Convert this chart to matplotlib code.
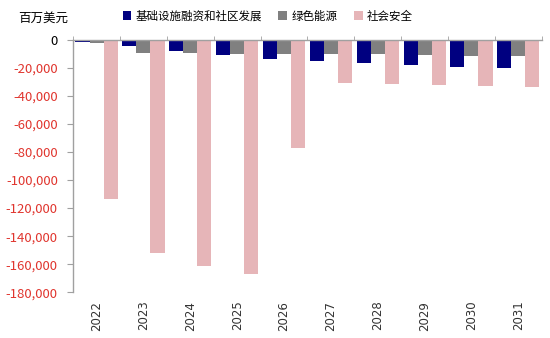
import matplotlib.pyplot as plt
import numpy as np
from matplotlib.ticker import FuncFormatter, FixedLocator

plt.rcParams['font.family'] = ['Noto Sans CJK SC', 'DejaVu Sans']

years = ['2022', '2023', '2024', '2025', '2026', '2027', '2028', '2029', '2030', '2031']
infra = [-1500, -4700, -8200, -11300, -13600, -15300, -17000, -18400, -19800, -20500]
green = [-2500, -9400, -9500, -10000, -10400, -10400, -10500, -10900, -11400, -11800]
social = [-113500, -152000, -161000, -167000, -77500, -30700, -31600, -32300, -33300, -34000]
series_names = ['基础设施融资和社区发展', '绿色能源', '社会安全']
colors = ['#000080', '#808080', '#E6B5B8']

fig = plt.figure(figsize=(5.5, 3.38), dpi=100)
ax = fig.add_axes([0.133, 0.135, 0.852, 0.748])

x = np.arange(len(years))
w = 0.3
for i, (vals, name, c) in enumerate(zip([infra, green, social], series_names, colors)):
    ax.bar(x + (i - 1) * w, vals, width=w, color=c, label=name, zorder=2)

ax.set_xlim(-0.5, len(years) - 0.5)
ax.set_ylim(-180000, 0)
ax.set_yticks(np.arange(-180000, 1, 20000))
ax.yaxis.set_major_formatter(FuncFormatter(lambda v, p: f'{int(v):,}'))
for lbl in ax.get_yticklabels():
    lbl.set_color('black' if lbl.get_text() == '0' else '#E0352E')
ax.tick_params(axis='y', length=4, color='#A0A0A0', labelsize=9.5, pad=7)

ax.set_xticks(x)
ax.set_xticklabels(years, rotation=90, fontsize=8.5, color='#333333', family=['DejaVu Sans'])
ax.tick_params(axis='x', which='major', length=0, pad=6)
ax.xaxis.set_minor_locator(FixedLocator(np.arange(-0.5, len(years), 1.0)))
ax.tick_params(axis='x', which='minor', bottom=False, top=True, direction='out',
               length=3, color='#A0A0A0')

for s in ['bottom', 'right']:
    ax.spines[s].set_visible(False)
for s in ['top', 'left']:
    ax.spines[s].set_color('#A0A0A0')
    ax.spines[s].set_linewidth(1.0)

fig.text(0.033, 0.945, '百万美元', fontsize=9, va='center', ha='left')
fig.legend(loc='center', bbox_to_anchor=(0.487, 0.952), ncol=3, frameon=False,
           fontsize=8.3, handlelength=0.75, handleheight=0.75, handletextpad=0.4,
           columnspacing=1.4)

fig.savefig('out.png', dpi=100)
